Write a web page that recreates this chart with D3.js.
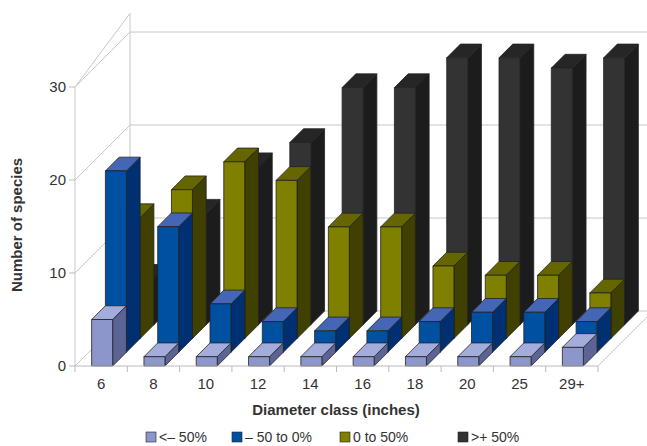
<!DOCTYPE html>
<html><head><meta charset="utf-8">
<script src="https://cdn.jsdelivr.net/npm/d3@7"></script>
<style>body{margin:0;background:#fff}text{font-family:"Liberation Sans",Arial,sans-serif;fill:#333}</style>
</head><body>
<script>
var categories = ["6","8","10","12","14","16","18","20","25","29+"];
var seriesNames = ["<\u2013 50%", "\u2013 50 to 0%", "0 to 50%", ">+ 50%"];
var lowest = [5, 1, 1, 1, 1, 1, 1, 1, 1, 2];
var lower = [19.5, 13.5, 5.2, 3.3, 2.3, 2.3, 3.3, 4.3, 4.3, 3.3];
var upper = [13, 16, 19, 17, 12, 12, 7.8, 6.8, 6.8, 4.9];
var highest = [5, 12, 17, 19.6, 25.5, 25.5, 28.7, 28.7, 27.6, 28.7];
var yTicks = [0, 10, 20, 30];

var series = [lowest, lower, upper, highest];
var colors = [
  {front: "#8c96cb", top: "#a4acdb", side: "#5b6494"},
  {front: "#0050a2", top: "#4466b4", side: "#003072"},
  {front: "#7f7f00", top: "#666600", side: "#404000"},
  {front: "#333333", top: "#262626", side: "#1c1c1c"}
];

var W = 647, H = 446, baseY = 366, step = 13.75;
var svg = d3.select("body").append("svg").attr("width", W).attr("height", H);

var x = d3.scaleBand().domain(categories).range([75, 598]);
var h = d3.scaleLinear().domain([0, 30]).range([0, 279]);
var depth = 4 * step;

// walls
var grid = svg.append("g").attr("fill", "none").attr("stroke", "#c8c8c8").attr("stroke-width", 1);
var x0 = 75, x1 = 598;
grid.append("path").attr("d", "M" + x0 + "," + baseY + "L" + (x0 + depth) + "," + (baseY - depth) + "L" + (x1 + depth) + "," + (baseY - depth) + "L" + x1 + "," + baseY);
grid.append("line").attr("x1", x0 + depth).attr("x2", x0 + depth).attr("y1", baseY - depth).attr("y2", baseY - depth - h(32));
grid.append("line").attr("x1", x0).attr("x2", x0).attr("y1", baseY).attr("y2", baseY - h(30));
grid.append("line").attr("x1", x0).attr("x2", x0 + depth).attr("y1", baseY - h(30)).attr("y2", baseY - depth - h(32));
yTicks.slice(1).forEach(function(v) {
  grid.append("path").attr("d", "M" + x0 + "," + (baseY - h(v)) + "L" + (x0 + depth) + "," + (baseY - depth - h(v)) + "L" + (x1 + depth) + "," + (baseY - depth - h(v)));
});

// bars, back series first
var bw = 21, off = (x.bandwidth() - bw) / 2 + 1;
for (var s = series.length - 1; s >= 0; s--) {
  var g = svg.append("g").attr("stroke", "#222").attr("stroke-width", 0.8).attr("stroke-linejoin", "round");
  var c = colors[s];
  series[s].forEach(function(v, i) {
    var bx = x(categories[i]) + off + s * step;
    var by = baseY - s * step;
    var ty = by - h(v);
    g.append("path").attr("fill", c.side)
      .attr("d", "M" + (bx + bw) + "," + by + "L" + (bx + bw + step) + "," + (by - step) + "L" + (bx + bw + step) + "," + (ty - step) + "L" + (bx + bw) + "," + ty + "Z");
    g.append("path").attr("fill", c.top)
      .attr("d", "M" + bx + "," + ty + "L" + (bx + step) + "," + (ty - step) + "L" + (bx + bw + step) + "," + (ty - step) + "L" + (bx + bw) + "," + ty + "Z");
    g.append("rect").attr("fill", c.front).attr("x", bx).attr("y", ty).attr("width", bw).attr("height", by - ty);
  });
}

// front axis
var ax = svg.append("g");
ax.append("line").attr("x1", x0).attr("x2", x1).attr("y1", baseY).attr("y2", baseY).attr("stroke", "#bbb");
categories.forEach(function(d, i) {
  ax.append("line").attr("x1", x(d)).attr("x2", x(d)).attr("y1", baseY).attr("y2", baseY + 6).attr("stroke", "#bbb");
  ax.append("text").attr("x", x(d) + x.bandwidth() / 2).attr("y", baseY + 23).attr("text-anchor", "middle").attr("font-size", 15).text(d);
});
ax.append("line").attr("x1", x1).attr("x2", x1).attr("y1", baseY).attr("y2", baseY + 6).attr("stroke", "#bbb");
yTicks.forEach(function(v) {
  ax.append("line").attr("x1", x0 - 6).attr("x2", x0).attr("y1", baseY - h(v)).attr("y2", baseY - h(v)).attr("stroke", "#bbb");
  ax.append("text").attr("x", x0 - 9).attr("y", baseY - h(v) + 5).attr("text-anchor", "end").attr("font-size", 15).text(v);
});

svg.append("text").attr("x", 336).attr("y", 415).attr("text-anchor", "middle").attr("font-size", 15).attr("font-weight", "bold").text("Diameter class (inches)");
svg.append("text").attr("transform", "translate(22,225) rotate(-90)").attr("text-anchor", "middle").attr("font-size", 15).attr("font-weight", "bold").text("Number of species");

// legend
var legX = [146, 232, 340, 458];
seriesNames.forEach(function(n, i) {
  svg.append("rect").attr("x", legX[i]).attr("y", 432).attr("width", 10).attr("height", 10).attr("fill", colors[i].front).attr("stroke", "#222").attr("stroke-width", 0.6);
  svg.append("text").attr("x", legX[i] + 13).attr("y", 442).attr("font-size", 14).text(n);
});
</script>
</body></html>
